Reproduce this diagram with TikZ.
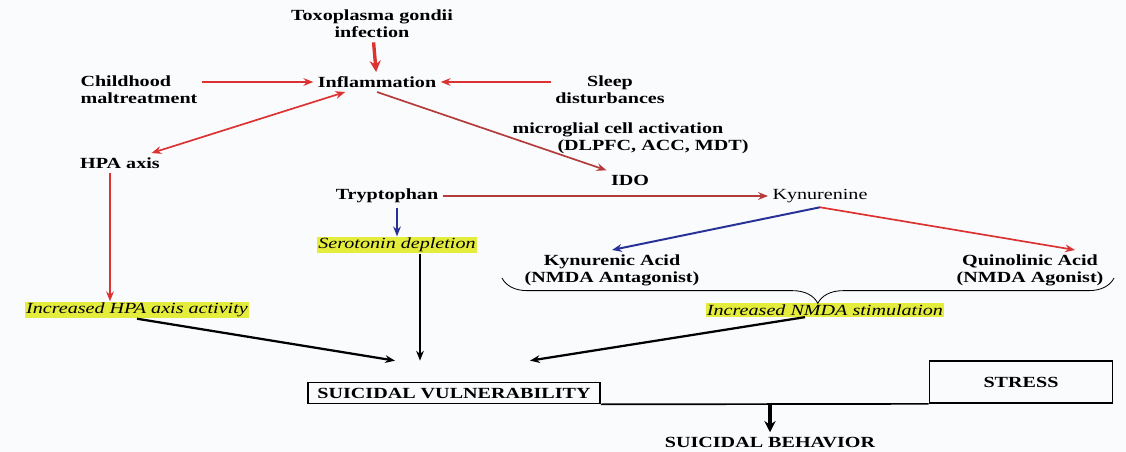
\documentclass[tikz,border=0pt]{standalone}
\usepackage{fontspec}
\setmainfont{Liberation Serif}[FakeStretch=1.3]
\usetikzlibrary{arrows.meta, positioning, calc, decorations.pathreplacing}

\definecolor{infred}{RGB}{220,50,50}
\definecolor{infbrown}{RGB}{180,60,60}
\definecolor{infblue}{RGB}{40,50,150}
\definecolor{hilite}{RGB}{228,236,60}
\definecolor{paper}{RGB}{250,251,253}

\begin{document}
\begin{tikzpicture}[
    x=0.025cm, y=-0.025cm,
    >={Stealth[length=7pt, width=5.5pt]},
    every node/.style={font=\fontsize{11}{12}\selectfont\bfseries, inner sep=3pt},
    factor/.style={align=center},
    effect/.style={font=\fontsize{11}{12}\selectfont\itshape, fill=hilite, inner sep=1pt},
    outcome/.style={rectangle, draw=black, line width=1.2pt, inner sep=1pt},
    redarrow/.style={->, draw=infred, line width=1.2pt},
    bluearrow/.style={->, draw=infblue, line width=1.4pt},
    blackarrow/.style={->, draw=black, line width=1.6pt},
    heavy/.style={line width=2.4pt, -{Stealth[length=8pt, width=8pt]}}
]

\useasboundingbox (0,0) rectangle (1126,452);
\fill[paper] (0,0) rectangle (1126,452);

% Causes of inflammation
\node[factor] (toxo) at (372,24) {Toxoplasma gondii\\infection};
\node (inflam) at (377,82) {Inflammation};
\node[align=left, anchor=west] (child) at (76,90) {Childhood\\maltreatment};
\node[factor] (sleep) at (610,90) {Sleep\\disturbances};

% HPA branch
\node (hpa) at (120,163) {HPA axis};
\node[effect] (hpaact) at (137,310) {Increased HPA axis activity};

% Kynurenine pathway
\node[align=left, anchor=west] (micro) at (508,138) {microglial cell activation\\\hspace*{32pt}(DLPFC, ACC, MDT)};
\node (ido) at (630,180) {IDO};
\node (trypt) at (387,196) {Tryptophan};
\node[font=\fontsize{11}{12}\selectfont\mdseries] (kyn) at (820,196) {Kynurenine};
\node[effect] (sero) at (397,245) {Serotonin depletion};
\node[factor] (kyna) at (612,270) {Kynurenic Acid\\(NMDA Antagonist)};
\node[factor] (quin) at (1030,270) {Quinolinic Acid\\(NMDA Agonist)};
\node[effect] (nmda) at (825,310) {Increased NMDA stimulation};

% Outcomes
\node[outcome, minimum width=7.3cm, minimum height=0.525cm] (vuln) at (454,393) {SUICIDAL VULNERABILITY};
\node[outcome, minimum width=4.575cm, minimum height=1.05cm] (stress) at (1021,382) {STRESS};
\node (behav) at (770,442) {SUICIDAL BEHAVIOR};

% Connections
\draw[redarrow, heavy] (toxo) -- (inflam);
\draw[redarrow] (child.east |- inflam) -- (inflam);
\draw[redarrow] (sleep.west |- inflam) -- (inflam);
\draw[redarrow, <->] (inflam) -- (hpa);
\draw[redarrow] ($(hpa.south)+(-10,0)$) -- ($(hpa.south |- hpaact.north)+(-10,0)$);
\draw[redarrow, draw=infbrown] (inflam.south) -- (ido.north west);
\draw[redarrow, draw=infbrown] (trypt) -- (kyn);
\draw[bluearrow] (sero |- trypt.south) -- (sero);
\draw[bluearrow] (kyn.south) -- (kyna.north);
\draw[redarrow] (kyn.south) -- ($(quin.north)+(45,0)$);

% brace under the two acids
\draw[line width=0.6pt, decorate, decoration={brace, amplitude=18pt, aspect=0.484}] (1114,278) -- (502,278);

% into suicidal vulnerability
\draw[blackarrow] (hpaact.south) -- ($(vuln.north)+(-59,-21)$);
\draw[blackarrow] ($(sero.south)+(23,0)$) -- ($(vuln.north)+(-34,-21)$);
\draw[blackarrow] ($(nmda.south)+(-20,0)$) -- ($(vuln.north)+(76,-21)$);
\draw[line width=1.2pt] (vuln.south east) -- (stress.south west);
\draw[blackarrow, heavy] (behav.north |- vuln.south) -- (behav);

\end{tikzpicture}
\end{document}
